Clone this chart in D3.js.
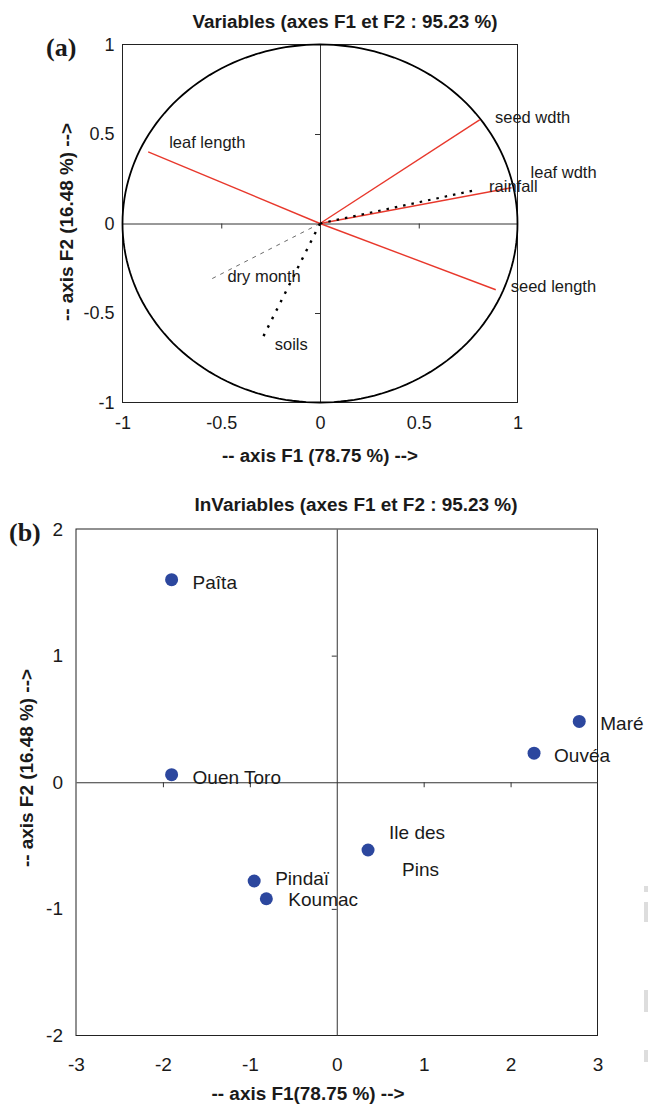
<!DOCTYPE html>
<html>
<head>
<meta charset="utf-8">
<script src="https://cdn.jsdelivr.net/npm/d3@7"></script>
<style>
  html, body { margin: 0; padding: 0; background: #fff; }
  svg { display: block; }
  text { font-family: "Liberation Sans", Arial, Helvetica, sans-serif; fill: #1a1a1a; }
</style>
</head>
<body>
<script>
// ---------- data: panel (a) – variable correlations ----------
const varNames = ["leaf length", "seed wdth", "leaf wdth", "rainfall", "seed length", "dry month", "soils"];
const varF1 = [-0.87, 0.81, 0.97, 0.78, 0.89, -0.55, -0.30];
const varF2 = [0.40, 0.58, 0.20, 0.185, -0.37, -0.31, -0.66];
const varKind = ["trait", "trait", "trait", "environment", "trait", "environment", "environment"];
const corTicks = [-1, -0.5, 0, 0.5, 1];

// ---------- data: panel (b) – sites ----------
const siteNames = ["Paîta", "Ouen Toro", "Maré", "Ouvéa", "Ile des Pins", "Pindaï", "Koumac"];
const siteF1 = [-1.90, -1.90, 2.79, 2.27, 0.36, -0.95, -0.81];
const siteF2 = [1.60, 0.06, 0.48, 0.23, -0.535, -0.78, -0.92];
const siteXTicks = [-3, -2, -1, 0, 1, 2, 3];
const siteYTicks = [-2, -1, 0, 1, 2];

const titleA = "Variables (axes F1 et F2 : 95.23 %)";
const titleB = "InVariables (axes F1 et F2 : 95.23 %)";
const xTitleA = "-- axis F1 (78.75 %) -->";
const xTitleB = "-- axis F1(78.75 %) -->";
const yTitle = "-- axis F2 (16.48 %) -->";

// ---------- styles / layout (kept apart from data) ----------
const lineStyle = {
  "leaf length": { stroke: "#e8382c", width: 1.4, dash: null },
  "seed wdth":   { stroke: "#e8382c", width: 1.4, dash: null },
  "leaf wdth":   { stroke: "#e8382c", width: 1.4, dash: null },
  "seed length": { stroke: "#e8382c", width: 1.4, dash: null },
  "rainfall":    { stroke: "#000", width: 2.2, dash: "2.5,6" },
  "soils":       { stroke: "#000", width: 2.4, dash: "2.5,7" },
  "dry month":   { stroke: "#444", width: 0.8, dash: "4,5" }
};
const varLabelOffset = {
  "leaf length": [21, -4], "seed wdth": [15, 3], "leaf wdth": [19, -10],
  "rainfall": [15, 2], "seed length": [15, 2], "dry month": [16, 3], "soils": [14, 8]
};
const siteLabelOffset = {
  "Paîta": [21, 9], "Ouen Toro": [21, 9], "Maré": [21, 9], "Ouvéa": [20, 9],
  "Pindaï": [21, 4], "Koumac": [22, 7.5]
};
const plainFmt = d => String(d);   // hyphen-minus, as in the reference

const W = 648, H = 1105;
const svg = d3.select("body").append("svg").attr("width", W).attr("height", H);

function boldText(g, txt, x, y, len, size, rotate) {
  const t = g.append("text")
    .attr("text-anchor", "middle")
    .attr("font-weight", "bold")
    .attr("font-size", size)
    .attr("textLength", len)
    .attr("lengthAdjust", "spacingAndGlyphs")
    .text(txt);
  if (rotate) t.attr("transform", `translate(${x},${y}) rotate(-90)`);
  else t.attr("x", x).attr("y", y);
  return t;
}

// ================= Panel (a) =================
const xa = d3.scaleLinear().domain([-1, 1]).range([122.5, 517.5]);
const ya = d3.scaleLinear().domain([-1, 1]).range([402.5, 44.5]);
const ga = svg.append("g");

boldText(ga, titleA, 345, 28, 305, 18);
ga.append("text").attr("x", 46).attr("y", 56)
  .attr("font-weight", "bold").attr("font-size", 26).style("font-family", "'Liberation Serif', serif")
  .text("(a)");

// frame
ga.append("rect")
  .attr("x", xa(-1)).attr("y", ya(1))
  .attr("width", xa(1) - xa(-1)).attr("height", ya(-1) - ya(1))
  .attr("fill", "none").attr("stroke", "#222").attr("stroke-width", 1);

// centre axes with small ticks
const axA_x = ga.append("g").attr("transform", `translate(0,${ya(0)})`)
  .call(d3.axisBottom(xa).tickValues([-0.5, 0.5]).tickSize(5).tickSizeOuter(0).tickFormat(""));
const axA_y = ga.append("g").attr("transform", `translate(${xa(0)},0)`)
  .call(d3.axisLeft(ya).tickValues([-0.5, 0.5]).tickSize(5).tickSizeOuter(0).tickFormat(""));
[axA_x, axA_y].forEach(a => a.selectAll("path,line").attr("stroke", "#333").attr("stroke-width", 1));

// tick labels
const lblAx = ga.append("g").attr("transform", `translate(0,${ya(-1)})`)
  .call(d3.axisBottom(xa).tickValues(corTicks).tickSize(0).tickPadding(13.5).tickFormat(plainFmt));
const lblAy = ga.append("g").attr("transform", `translate(${xa(-1)},0)`)
  .call(d3.axisLeft(ya).tickValues(corTicks).tickSize(0).tickPadding(8).tickFormat(plainFmt));
[lblAx, lblAy].forEach(a => {
  a.select(".domain").remove();
  a.selectAll("text").attr("font-size", 18).attr("fill", "#1a1a1a")
    .attr("font-family", "'Liberation Sans', Arial, sans-serif");
});

// correlation circle
const circ = d3.range(0, 361, 2).map(a => [Math.cos(a * Math.PI / 180), Math.sin(a * Math.PI / 180)]);
ga.append("path")
  .attr("d", d3.line().x(d => xa(d[0])).y(d => ya(d[1]))(circ))
  .attr("fill", "none").attr("stroke", "#000").attr("stroke-width", 1.8);

// vectors
const vars = varNames.map((n, i) => ({ name: n, f1: varF1[i], f2: varF2[i], kind: varKind[i] }));
const drawOrder = vars.slice().sort((a, b) => (a.kind === "trait" ? 0 : 1) - (b.kind === "trait" ? 0 : 1));
ga.append("g").selectAll("line").data(drawOrder).join("line")
  .attr("x1", xa(0)).attr("y1", ya(0))
  .attr("x2", d => xa(d.f1)).attr("y2", d => ya(d.f2))
  .attr("stroke", d => lineStyle[d.name].stroke)
  .attr("stroke-width", d => lineStyle[d.name].width)
  .attr("stroke-dasharray", d => lineStyle[d.name].dash);
ga.append("g").selectAll("text").data(vars).join("text")
  .attr("x", d => xa(d.f1) + varLabelOffset[d.name][0])
  .attr("y", d => ya(d.f2) + varLabelOffset[d.name][1])
  .attr("font-size", 16.5)
  .text(d => d.name);

boldText(ga, xTitleA, 320, 462, 196, 18);
boldText(ga, yTitle, 73, 222, 198, 18, true);

// ================= Panel (b) =================
const xb = d3.scaleLinear().domain([-3, 3]).range([76, 597.5]);
const yb = d3.scaleLinear().domain([-2, 2]).range([1035.5, 529]);
const gb = svg.append("g");

boldText(gb, titleB, 356, 511, 323, 18);
gb.append("text").attr("x", 9).attr("y", 541)
  .attr("font-weight", "bold").attr("font-size", 26).style("font-family", "'Liberation Serif', serif")
  .text("(b)");

gb.append("rect")
  .attr("x", xb(-3)).attr("y", yb(2))
  .attr("width", xb(3) - xb(-3)).attr("height", yb(-2) - yb(2))
  .attr("fill", "none").attr("stroke", "#222").attr("stroke-width", 1);

const axB_x = gb.append("g").attr("transform", `translate(0,${yb(0)})`)
  .call(d3.axisBottom(xb).tickValues([-2, -1, 1, 2]).tickSize(5).tickSizeOuter(0).tickFormat(""));
const axB_y = gb.append("g").attr("transform", `translate(${xb(0)},0)`)
  .call(d3.axisLeft(yb).tickValues([-1, 1]).tickSize(5).tickSizeOuter(0).tickFormat(""));
[axB_x, axB_y].forEach(a => a.selectAll("path,line").attr("stroke", "#333").attr("stroke-width", 1));

const lblBx = gb.append("g").attr("transform", `translate(0,${yb(-2)})`)
  .call(d3.axisBottom(xb).tickValues(siteXTicks).tickSize(0).tickPadding(22).tickFormat(plainFmt));
const lblBy = gb.append("g").attr("transform", `translate(${xb(-3)},0)`)
  .call(d3.axisLeft(yb).tickValues(siteYTicks).tickSize(0).tickPadding(13).tickFormat(plainFmt));
[lblBx, lblBy].forEach(a => {
  a.select(".domain").remove();
  a.selectAll("text").attr("font-size", 19).attr("fill", "#1a1a1a")
    .attr("font-family", "'Liberation Sans', Arial, sans-serif");
});

const sites = siteNames.map((n, i) => ({ name: n, f1: siteF1[i], f2: siteF2[i] }));
gb.append("g").selectAll("circle").data(sites).join("circle")
  .attr("cx", d => xb(d.f1)).attr("cy", d => yb(d.f2)).attr("r", 6.5)
  .attr("fill", "#2c479e");

const lbl = gb.append("g").selectAll("text").data(sites).join("text")
  .attr("font-size", 19)
  .attr("x", d => xb(d.f1) + (siteLabelOffset[d.name] || [21, 9])[0])
  .attr("y", d => yb(d.f2) + (siteLabelOffset[d.name] || [21, 9])[1]);
lbl.filter(d => d.name !== "Ile des Pins").text(d => d.name);
const ip = lbl.filter(d => d.name === "Ile des Pins");
ip.append("tspan").attr("x", d => xb(d.f1) + 21).attr("y", d => yb(d.f2) - 11).text("Ile des");
ip.append("tspan").attr("x", d => xb(d.f1) + 34).attr("y", d => yb(d.f2) + 26).text("Pins");

boldText(gb, xTitleB, 308, 1100, 193, 18);
boldText(gb, yTitle, 33, 768, 198, 18, true);

// faint scan marks at the right edge of the figure
[[886, 6], [902, 20], [990, 22], [1050, 12]].forEach(([y, h]) =>
  svg.append("rect").attr("x", 644).attr("y", y).attr("width", 4).attr("height", h).attr("fill", "#ddd"));
</script>
</body>
</html>
